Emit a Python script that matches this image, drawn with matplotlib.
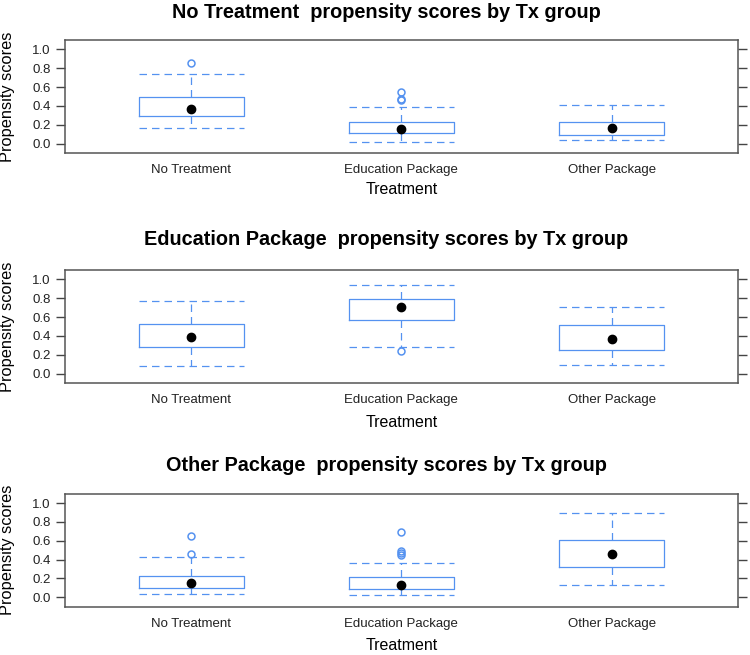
import numpy as np
import matplotlib
matplotlib.use("Agg")
import matplotlib.pyplot as plt

plt.rcParams['font.family'] = ['Liberation Sans', 'DejaVu Sans']

# data (one row per panel, one column per group)
panel_names = ["No Treatment", "Education Package", "Other Package"]
groups = ["No Treatment", "Education Package", "Other Package"]

whis_lo = [[0.166, 0.021, 0.039], [0.081, 0.277, 0.092], [0.032, 0.024, 0.127]]
q1 = [[0.290, 0.109, 0.095], [0.280, 0.574, 0.251], [0.099, 0.085, 0.318]]
med = [[0.367, 0.156, 0.166], [0.386, 0.705, 0.368], [0.148, 0.127, 0.462]]
q3 = [[0.500, 0.226, 0.226], [0.524, 0.790, 0.517], [0.229, 0.215, 0.604]]
whis_hi = [[0.740, 0.389, 0.410], [0.772, 0.943, 0.705], [0.424, 0.360, 0.894]]
outliers = [[[0.855], [0.545, 0.47, 0.46], []],
            [[], [0.237], []],
            [[0.647, 0.456], [0.692, 0.49, 0.47, 0.45], []]]

blue = "#5592f0"
dash = (0, (6, 4))
lw = 0.9
pos = np.arange(1, len(groups) + 1)

fig = plt.figure(figsize=(7.5, 6.55), dpi=100)

# axes boxes in figure fractions (bottoms), same width/height for every panel
bottoms = [0.7664, 0.4153, 0.0737]
titles_y = [0.981, 0.634, 0.289]
xlab_y = [0.711, 0.355, 0.015]

for i, name in enumerate(panel_names):
    ax = fig.add_axes([0.0867, bottoms[i], 0.897, 0.1725])
    stats = []
    for j in range(len(groups)):
        stats.append(dict(whislo=whis_lo[i][j], q1=q1[i][j], med=med[i][j],
                          q3=q3[i][j], whishi=whis_hi[i][j], fliers=outliers[i][j]))
    ax.bxp(stats, positions=pos, widths=0.5, capwidths=0.5,
           boxprops=dict(color=blue, linewidth=lw),
           whiskerprops=dict(color=blue, linewidth=lw, linestyle=dash),
           capprops=dict(color=blue, linewidth=lw, linestyle=dash),
           medianprops=dict(linestyle='none'),
           flierprops=dict(marker='o', markerfacecolor='none', markeredgecolor=blue,
                           markersize=5, markeredgewidth=1.1))
    ax.plot(pos, med[i], 'o', color='black', markersize=6, zorder=5)

    ax.set_xlim(0.4, 3.6)
    ax.set_ylim(-0.1, 1.1)
    ax.set_xticks(pos)
    ax.set_xticklabels(groups, fontsize=9.5, color='#222222')
    ax.set_yticks(np.arange(0, 1.01, 0.2))
    ax.set_yticklabels(["%.1f" % v for v in np.arange(0, 1.01, 0.2)], fontsize=9.5, color='#222222')
    ax.tick_params(axis='x', length=0, pad=8)
    ax.tick_params(axis='y', direction='out', length=6.5, width=1, color='#444444',
                   right=True, labelright=False, pad=4)
    for s in ax.spines.values():
        s.set_color('#555555')
        s.set_linewidth(1.1)
    ax.set_ylabel("Propensity scores", fontsize=11.8)
    ax.yaxis.set_label_coords(-0.0745, 0.5)

    fig.text(0.515, titles_y[i], name + "  propensity scores by Tx group",
             ha='center', va='center', fontsize=14.3, fontweight='bold')
    fig.text(0.5353, xlab_y[i], "Treatment", ha='center', va='center', fontsize=11.5)

fig.savefig("out.png", dpi=100)
